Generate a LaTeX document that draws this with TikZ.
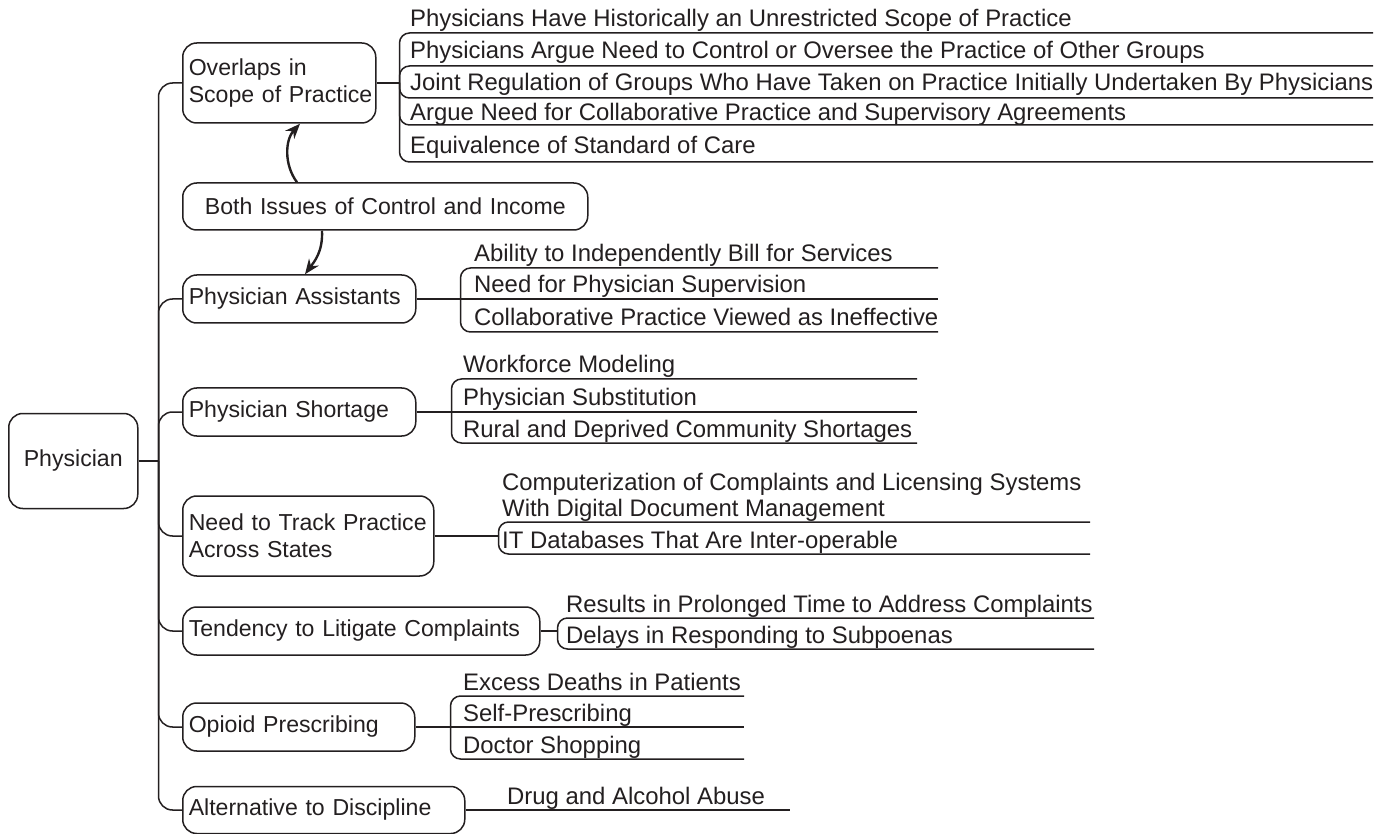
\documentclass[tikz,border=0pt]{standalone}
\usepackage{fontspec}
\setmainfont{Liberation Sans}
\usetikzlibrary{arrows.meta}
\definecolor{ink}{HTML}{231F20}
\begin{document}
\begin{tikzpicture}[x=1pt,y=-1pt,
  every node/.style={text=ink},
  topic/.style={draw=ink, line width=1.5pt, rounded corners=14pt,
    font=\fontsize{23.1}{27}\selectfont,
    inner xsep=6pt, inner ysep=0pt, anchor=west, align=left},
  sub/.style={anchor=base west, inner sep=0pt, font=\fontsize{23.9}{26}\selectfont},
  link/.style={draw=ink, line width=1.5pt, rounded corners=10pt},
  trunk/.style={draw=ink, line width=1.5pt, rounded corners=14pt},
  flow/.style={draw=ink, line width=2.4pt, -{Stealth[length=15pt,width=12pt]}}
]
\useasboundingbox (0,0) rectangle (1393,834);

% central topic
\node[topic, align=center, text width=117pt, minimum height=95pt] (root) at (8,461) {Physician};

% main topics
\node[topic, text width=181pt, minimum height=80pt] (ov) at (182,83)
  {\mbox{Overlaps in}\\\mbox{Scope of Practice}};
\node[topic, align=center, text width=393pt, minimum height=47pt] (both) at (182,206.5)
  {\mbox{Both Issues of Control and Income}};
\node[topic, text width=221pt, minimum height=48pt] (pa) at (182,299) {\mbox{Physician Assistants}};
\node[topic, text width=221pt, minimum height=48pt] (ps) at (182,412) {\mbox{Physician Shortage}};
\node[topic, text width=239pt, minimum height=80pt] (nt) at (182,536)
  {\mbox{Need to Track Practice}\\\mbox{Across States}};
\node[topic, text width=345pt, minimum height=48pt] (td) at (182,631) {\mbox{Tendency to Litigate Complaints}};
\node[topic, text width=220pt, minimum height=48pt] (op) at (182,727) {\mbox{Opioid Prescribing}};
\node[topic, text width=270pt, minimum height=47pt] (al) at (182,810) {\mbox{Alternative to Discipline}};

% trunk from the central topic
\coordinate (tr) at ([xshift=20pt]root.east);
\draw[trunk] (root.east) -- (tr);
\foreach \t in {ov,pa,ps,nt,td,op,al} \draw[trunk] (tr) |- (\t.west);

% interplay arrows
\draw[flow] ([xshift=115pt]both.north west) .. controls (284,165) and (285,140) .. ([xshift=118pt]ov.south west);
\draw[flow] ([xshift=140pt]both.south west) .. controls (323,252) and (314,262) .. ([xshift=123pt]pa.north west);

% --- Overlaps in Scope of Practice
\coordinate (j1) at ([xshift=23pt]ov.east);
\draw[link] (ov.east) -- (j1);
\node[sub] (s11) at (410,27) {Physicians Have Historically an Unrestricted Scope of Practice};
\node[sub] (s12) at (410,59) {Physicians Argue Need to Control or Oversee the Practice of Other Groups};
\node[sub] (s13) at (410,91) {Joint Regulation of Groups Who Have Taken on Practice Initially Undertaken By Physicians};
\node[sub] (s14) at (410,121) {Argue Need for Collaborative Practice and Supervisory Agreements};
\node[sub] (s15) at (410,154) {Equivalence of Standard of Care};
\coordinate (e11) at (1373,33);
\coordinate (e12) at (1373,66);
\coordinate (e13) at (1373,98);
\coordinate (e14) at (1373,125);
\coordinate (e15) at (1373,162);
\foreach \e in {e11,e12,e13,e14,e15} \draw[link] (j1) |- (\e);

% --- Physician Assistants
\coordinate (j2) at ([xshift=44pt]pa.east);
\node[sub] (s21) at (474,262) {Ability to Independently Bill for Services};
\node[sub] (s22) at (474,293) {Need for Physician Supervision};
\node[sub] (s23) at (474,326) {Collaborative Practice Viewed as Ineffective};
\coordinate (e21) at (938,268);
\coordinate (e22) at (938,299);
\coordinate (e23) at (938,332);
\draw[link] (pa.east) -- (j2) -- (e22);
\draw[link] (j2) |- (e21);
\draw[link] (j2) |- (e23);

% --- Physician Shortage
\coordinate (j3) at ([xshift=35pt]ps.east);
\node[sub] (s31) at (463,373) {Workforce Modeling};
\node[sub] (s32) at (463,406) {Physician Substitution};
\node[sub] (s33) at (463,437) {Rural and Deprived Community Shortages};
\coordinate (e31) at (917,379);
\coordinate (e32) at (917,412);
\coordinate (e33) at (917,443);
\draw[link] (ps.east) -- (j3) -- (e32);
\draw[link] (j3) |- (e31);
\draw[link] (j3) |- (e33);

% --- Need to Track Practice Across States
\coordinate (j4) at ([xshift=64pt]nt.east);
\draw[link] (nt.east) -- (j4);
% base anchor of a two-line node sits on its last line
\node[sub, align=left] (s41) at (502,516)
  {Computerization of Complaints and Licensing Systems\\With Digital Document Management};
\node[sub] (s42) at (502,548) {IT Databases That Are Inter-operable};
\coordinate (e41) at (1090,522);
\coordinate (e42) at (1090,554);
\draw[link] (j4) |- (e41);
\draw[link] (j4) |- (e42);

% --- Tendency to Litigate Complaints
\coordinate (j5) at ([xshift=17pt]td.east);
\draw[link] (td.east) -- (j5);
\node[sub] (s51) at (566,612) {Results in Prolonged Time to Address Complaints};
\node[sub] (s52) at (566,643) {Delays in Responding to Subpoenas};
\coordinate (e51) at (1094,618);
\coordinate (e52) at (1094,649);
\draw[link] (j5) |- (e51);
\draw[link] (j5) |- (e52);

% --- Opioid Prescribing
\coordinate (j6) at ([xshift=35pt]op.east);
\node[sub] (s61) at (463,690) {Excess Deaths in Patients};
\node[sub] (s62) at (463,721) {Self-Prescribing};
\node[sub] (s63) at (463,753) {Doctor Shopping};
\coordinate (e61) at (744,696);
\coordinate (e62) at (744,727);
\coordinate (e63) at (744,759);
\draw[link] (op.east) -- (j6) -- (e62);
\draw[link] (j6) |- (e61);
\draw[link] (j6) |- (e63);

% --- Alternative to Discipline
\node[sub] (s71) at (507,804) {Drug and Alcohol Abuse};
\coordinate (e71) at (790,810);
\draw[link] (al.east) -- (e71);
\end{tikzpicture}
\end{document}
